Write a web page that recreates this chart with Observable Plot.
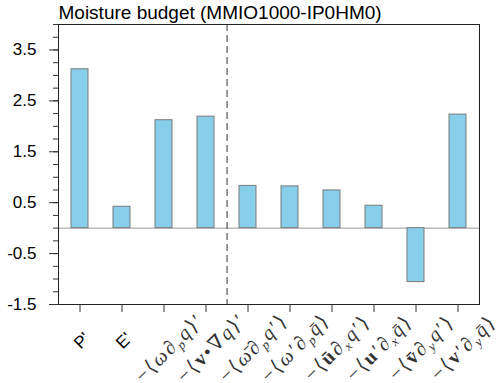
<!DOCTYPE html>
<html>
<head>
<meta charset="utf-8">
<script src="https://cdn.jsdelivr.net/npm/d3@7"></script>
<script src="https://cdn.jsdelivr.net/npm/@observablehq/plot@0.6"></script>
<style>
  html, body { margin: 0; padding: 0; background: #fff; }
</style>
</head>
<body>
<div id="chart"></div>
<script>
// Category labels (mini markup: [..] bold upright, _c subscript char, \u0304 overbar)
const categories = [
  "P'",
  "E'",
  "−⟨ω∂_pq⟩′",
  "−⟨[v]•∇q⟩′",
  "−⟨ω\u0304∂_pq′⟩",
  "−⟨ω′∂_pq\u0304⟩",
  "−⟨[u\u0304]∂_xq′⟩",
  "−⟨[u]′∂_xq\u0304⟩",
  "−⟨[v\u0304]∂_yq′⟩",
  "−⟨[v]′∂_yq\u0304⟩"
];
const values = [3.12, 0.42, 2.12, 2.19, 0.83, 0.82, 0.74, 0.44, -1.06, 2.23];
const majorTicks = [-1.5, -0.5, 0.5, 1.5, 2.5, 3.5];
const minorTicks = d3.range(-1.5, 4.0001, 0.25);
const yDomain = [-1.5, 4.0];
const dividerAfter = 3; // dashed line after 4th category
const title = "Moisture budget (MMIO1000-IP0HM0)";

const data = categories.map((c, i) => ({cat: c, value: values[i]}));
const plainLabels = categories.filter(c => !c.startsWith("−"));
const mathLabels = categories.filter(c => c.startsWith("−"));

const chart = Plot.plot({
  width: 500,
  height: 383,
  marginLeft: 58,
  marginRight: 21,
  marginTop: 24,
  marginBottom: 79,
  style: {fontFamily: "'Liberation Sans', Arial, sans-serif", fontSize: "17px", background: "#fff"},
  x: {domain: categories, paddingInner: 0.6, paddingOuter: 0.3},
  y: {domain: yDomain},
  marks: [
    Plot.ruleY([0], {stroke: "#999", strokeWidth: 1}),
    Plot.barY(data, {x: "cat", y: "value", fill: "#87CEEB", stroke: "#7a7a7a", strokeWidth: 1}),
    Plot.ruleX([categories[dividerAfter]], {dx: 21.05, stroke: "#333", strokeWidth: 1, strokeDasharray: "7,4"}),
    Plot.frame({stroke: "#222", strokeWidth: 1}),
    Plot.axisY({ticks: minorTicks, tickSize: 5, text: null, label: null, stroke: "#333"}),
    Plot.axisY({ticks: majorTicks, tickSize: 9, tickPadding: 13, tickFormat: d => d.toFixed(1), label: null, stroke: "#333", fill: "#000", fontSize: 17}),
    Plot.axisX({tickSize: 8, text: null, label: null, stroke: "#333"}),
    Plot.text(plainLabels, {x: d => d, frameAnchor: "bottom", dx: 6, dy: 40, rotate: -45, textAnchor: "middle", fontSize: 17, fill: "#000"}),
    Plot.text(mathLabels, {x: d => d, frameAnchor: "bottom", dx: 10, dy: 48, rotate: -45, textAnchor: "middle", fontSize: 20, fill: "#333"}),
    Plot.text([title], {frameAnchor: "top-left", textAnchor: "start", lineAnchor: "bottom", dy: -6, fontSize: 19, fill: "#000"})
  ]
});

document.getElementById("chart").appendChild(chart);

// Rebuild math labels with tspans (subscripts, bold parts)
const svgNS = "http://www.w3.org/2000/svg";
chart.querySelectorAll("text").forEach(t => {
  const s = t.textContent;
  if (!mathLabels.includes(s)) return;
  t.textContent = "";
  t.setAttribute("font-family", "'Liberation Serif', 'DejaVu Serif', serif");
  t.setAttribute("font-style", "italic");
  t.setAttribute("letter-spacing", "2");
  let shift = 0;
  const add = (str, opts) => {
    const sp = document.createElementNS(svgNS, "tspan");
    sp.textContent = str;
    const target = opts.sub ? 4 : 0;
    if (target !== shift) { sp.setAttribute("dy", target - shift); shift = target; }
    if (opts.sub) sp.setAttribute("font-size", 13);
    if (opts.bold) { sp.setAttribute("font-weight", "bold"); sp.setAttribute("font-style", "normal"); }
    if (opts.upright) sp.setAttribute("font-style", "normal");
    t.appendChild(sp);
  };
  let i = 0, buf = "";
  const flush = () => { if (buf) { add(buf, {}); buf = ""; } };
  while (i < s.length) {
    const ch = s[i];
    if (ch === "[") {
      flush();
      const j = s.indexOf("]", i);
      add(s.slice(i + 1, j), {bold: true});
      i = j + 1;
    } else if (ch === "_") {
      flush();
      add(s[i + 1], {sub: true});
      i += 2;
    } else if ("−⟨⟩∂∇•′".includes(ch)) {
      flush();
      add(ch, {upright: true});
      i += 1;
    } else {
      buf += ch;
      i += 1;
    }
  }
  flush();
});
</script>
</body>
</html>
